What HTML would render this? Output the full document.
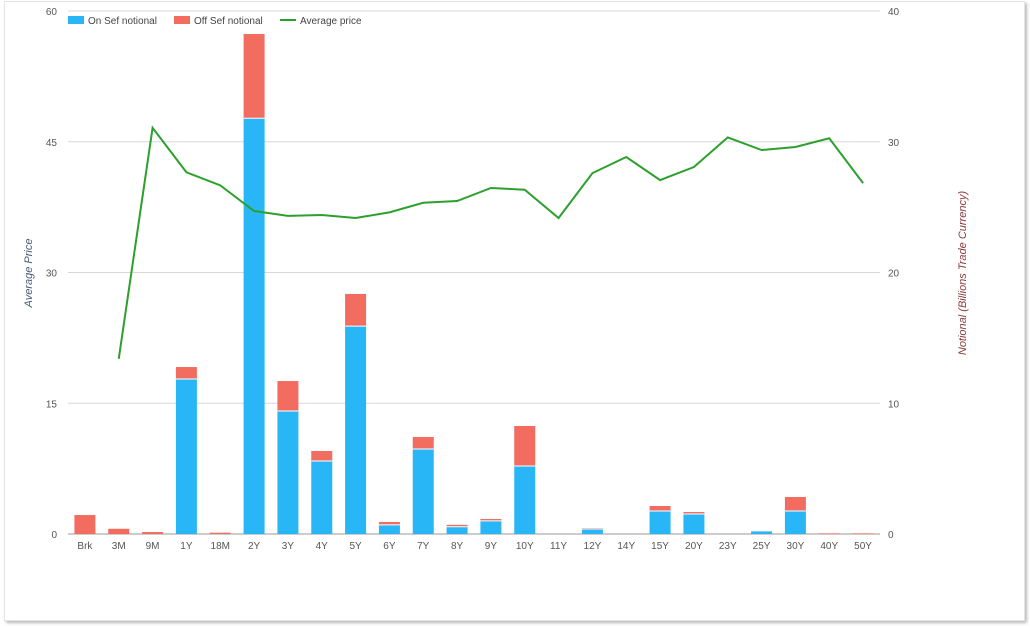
<!DOCTYPE html>
<html><head><meta charset="utf-8"><style>
body{margin:0;background:#fff;font-family:"Liberation Sans",sans-serif;}
#card{position:absolute;left:4px;top:1px;width:1019px;height:618px;border:1px solid #e4e4e4;box-shadow:2px 2px 3px #bbb;background:#fff;}
svg{position:absolute;left:0;top:0;}
text{font-family:"Liberation Sans",sans-serif;}
</style></head><body>
<div id="card"></div>
<svg id="chart" width="1030" height="628"></svg>
<script>
const categories=["Brk","3M","9M","1Y","18M","2Y","3Y","4Y","5Y","6Y","7Y","8Y","9Y","10Y","11Y","12Y","14Y","15Y","20Y","23Y","25Y","30Y","40Y","50Y"];
const onSef=[0,0,0,11.85,0,31.8,9.41,5.58,15.9,0.7,6.5,0.55,1.0,5.2,0,0.38,0,1.76,1.53,0,0.2,1.76,0,0];
const offSef=[1.45,0.4,0.15,0.92,0.1,6.44,2.29,0.77,2.46,0.22,0.92,0.15,0.15,3.06,0,0.07,0,0.38,0.15,0,0,1.07,0.05,0.05];
const avgPrice=[null,20.1,46.6,41.5,40.0,37.05,36.5,36.6,36.25,36.9,38.0,38.2,39.7,39.5,36.25,41.4,43.25,40.6,42.1,45.5,44.05,44.4,45.4,40.25];
const leftTicks=[0,15,30,45,60];
const rightTicks=[0,10,20,30,40];
const NS="http://www.w3.org/2000/svg";
const svg=document.getElementById('chart');
const X0=68,X1=880,Y0=534,Y1=11;
const step=(X1-X0)/categories.length;
const xc=i=>X0+step*(i+0.5);
const yL=v=>Y0-v/60*(Y0-Y1);
const yR=v=>Y0-v/40*(Y0-Y1);
function el(t,a,txt){const e=document.createElementNS(NS,t);for(const k in a)e.setAttribute(k,a[k]);if(txt!=null)e.textContent=txt;svg.appendChild(e);return e;}
leftTicks.forEach((v,i)=>{
 const g=el('line',{x1:X0,x2:X1,y1:yL(v),y2:yL(v),stroke:i==0?'#999':'#d8d8d8','stroke-width':1});
 
 
 const t=el('text',{x:57,y:yL(v)+4,'text-anchor':'end','font-size':10,fill:'#555'},v);
 
 
});
rightTicks.forEach(v=>{
 const t=el('text',{x:888,y:yR(v)+4,'text-anchor':'start','font-size':10,fill:'#555'},v);
 
 
});
const bw=21;
categories.forEach((c,i)=>{
 const x=xc(i)-bw/2;
 if(onSef[i]>0){const r=el('rect',{x:x,y:yR(onSef[i]),width:bw,height:Y0-yR(onSef[i]),fill:'#29b6f6'});
 
 }
 if(offSef[i]>0){const top=yR(onSef[i]+offSef[i]);const r=el('rect',{x:x,y:top,width:bw,height:yR(onSef[i])-top,fill:'#f26c60'});
 
 }
 if(onSef[i]>0&&offSef[i]>0){const l=el('line',{x1:x,x2:x+bw,y1:yR(onSef[i]),y2:yR(onSef[i]),stroke:'#fff','stroke-width':1});
 
 }
 const t=el('text',{x:xc(i),y:549,'text-anchor':'middle','font-size':10,fill:'#555'},c);
 
 
});
let d='';avgPrice.forEach((v,i)=>{if(v==null)return;d+=(d?'L':'M')+xc(i)+','+yL(v);});
const p=el('path',{d:d,fill:'none',stroke:'#2ca02c','stroke-width':2});


const lt=el('text',{x:32,y:273,'text-anchor':'middle','font-size':11,'font-style':'italic',fill:'#4a5a7a',transform:'rotate(-90 32 273)'},'Average Price');


const rt=el('text',{x:966,y:273,'text-anchor':'middle','font-size':11,'font-style':'italic',fill:'#8b3a3a',transform:'rotate(-90 966 273)'},'Notional (Billions Trade Currency)');


const leg=[['On Sef notional','#29b6f6',68,'rect'],['Off Sef notional','#f26c60',174,'rect'],['Average price','#2ca02c',280,'line']];
leg.forEach(([n,c,x,k])=>{
 const g=document.createElementNS(NS,'g');svg.appendChild(g);
 
 
 if(k=='rect'){const r=document.createElementNS(NS,'rect');r.setAttribute('x',x);r.setAttribute('y',16);r.setAttribute('width',16);r.setAttribute('height',8);r.setAttribute('fill',c);g.appendChild(r);}
 else{const l=document.createElementNS(NS,'line');l.setAttribute('x1',x);l.setAttribute('x2',x+16);l.setAttribute('y1',20);l.setAttribute('y2',20);l.setAttribute('stroke',c);l.setAttribute('stroke-width',2);g.appendChild(l);}
 const t=document.createElementNS(NS,'text');t.setAttribute('x',x+20);t.setAttribute('y',24);t.setAttribute('font-size',10);t.setAttribute('fill','#444');t.textContent=n;g.appendChild(t);
});
</script>
</body></html>
